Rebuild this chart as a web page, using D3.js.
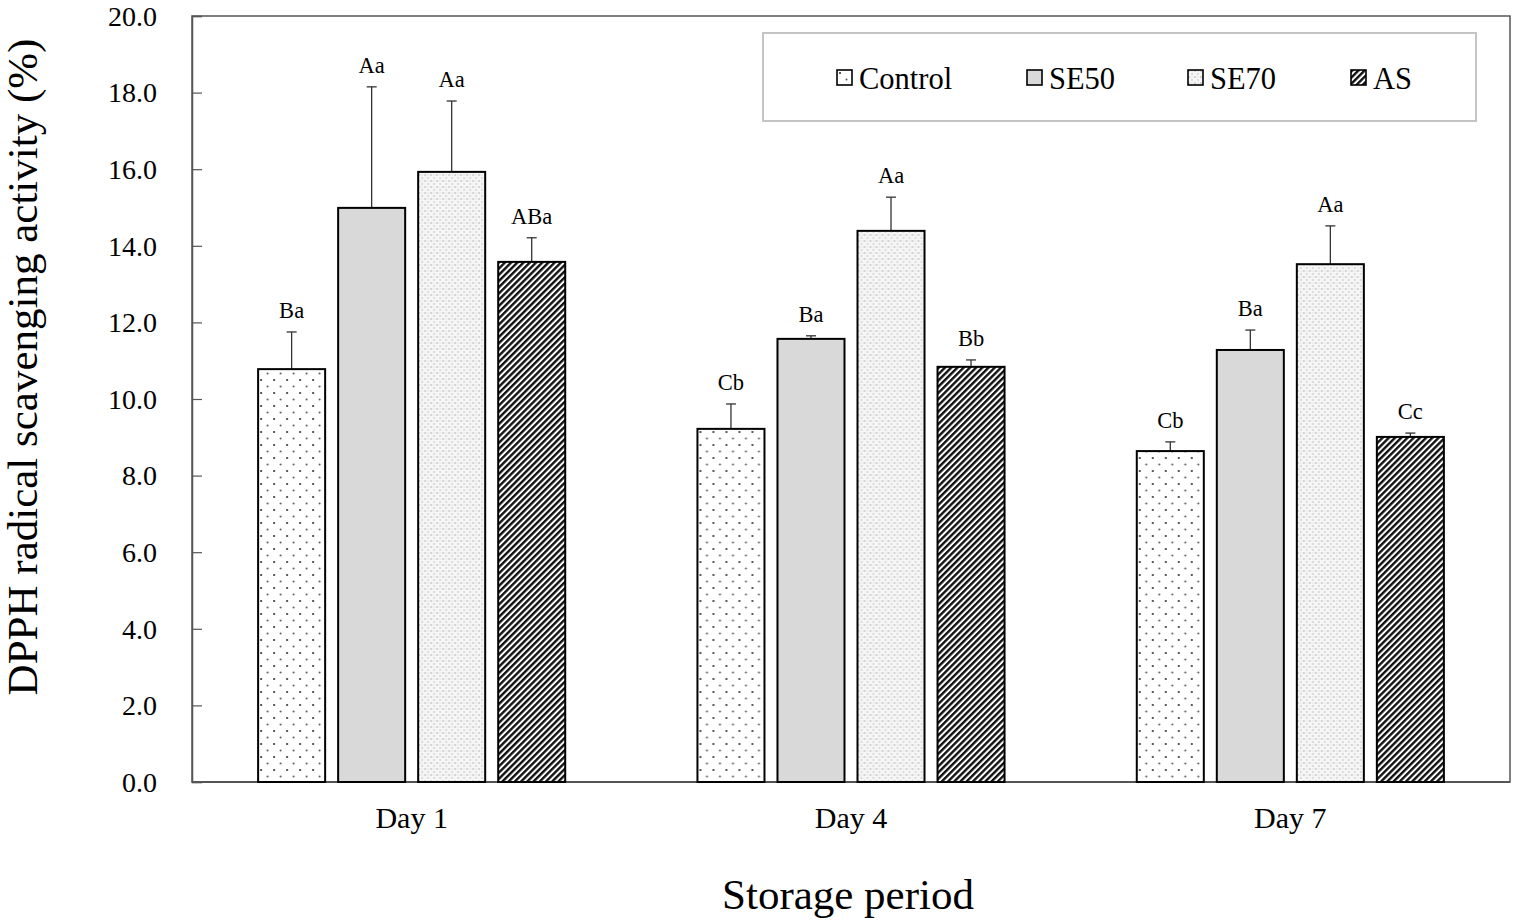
<!DOCTYPE html>
<html>
<head>
<meta charset="utf-8">
<script src="https://cdn.jsdelivr.net/npm/d3@7"></script>
<style>
  body { margin: 0; background: #fff; }
  text { font-family: "Liberation Serif", "Times New Roman", serif; fill: #000; }
</style>
</head>
<body>
<svg id="chart"></svg>
<script>
const days = ["Day 1", "Day 4", "Day 7"];
const series = ["Control", "SE50", "SE70", "AS"];
const means = {
    "Control": [10.78, 9.22, 8.64],
    "SE50":    [14.99, 11.57, 11.28],
    "SE70":    [15.93, 14.39, 13.52],
    "AS":      [13.58, 10.84, 9.01]
};
const errors = {
    "Control": [0.97, 0.65, 0.24],
    "SE50":    [3.16, 0.08, 0.52],
    "SE70":    [1.85, 0.88, 1.00],
    "AS":      [0.63, 0.18, 0.10]
};
const letters = {
    "Control": ["Ba", "Cb", "Cb"],
    "SE50":    ["Aa", "Ba", "Ba"],
    "SE70":    ["Aa", "Aa", "Aa"],
    "AS":      ["ABa", "Bb", "Cc"]
};
const yTicks = [0, 2, 4, 6, 8, 10, 12, 14, 16, 18, 20];

const width = 1513, height = 920,
      margin = {top: 16, right: 3, bottom: 138, left: 192};

const svg = d3.select("#chart")
    .attr("width", width)
    .attr("height", height);

// fill patterns
const defs = svg.append("defs");

const pCtrl = defs.append("pattern").attr("id", "p-control")
    .attr("patternUnits", "userSpaceOnUse").attr("width", 13).attr("height", 13);
pCtrl.append("rect").attr("width", 13).attr("height", 13).attr("fill", "#fff");
pCtrl.append("circle").attr("cx", 3).attr("cy", 3).attr("r", 1).attr("fill", "#222");
pCtrl.append("circle").attr("cx", 9.5).attr("cy", 9.5).attr("r", 1).attr("fill", "#555");

const pSe70 = defs.append("pattern").attr("id", "p-se70")
    .attr("patternUnits", "userSpaceOnUse").attr("width", 6).attr("height", 6);
pSe70.append("rect").attr("width", 6).attr("height", 6).attr("fill", "#f6f6f6");
pSe70.append("circle").attr("cx", 1).attr("cy", 1).attr("r", 0.8).attr("fill", "#aaa");
pSe70.append("circle").attr("cx", 4).attr("cy", 4).attr("r", 0.8).attr("fill", "#bbb");
pSe70.append("circle").attr("cx", 4).attr("cy", 1).attr("r", 0.5).attr("fill", "#ccc");

const pAs = defs.append("pattern").attr("id", "p-as")
    .attr("patternUnits", "userSpaceOnUse").attr("width", 4.4).attr("height", 4.4)
    .attr("patternTransform", "rotate(45)");
pAs.append("rect").attr("width", 4.4).attr("height", 4.4).attr("fill", "#fff");
pAs.append("rect").attr("width", 2.4).attr("height", 4.4).attr("fill", "#111");

const fills = {
    "Control": "url(#p-control)",
    "SE50": "#d9d9d9",
    "SE70": "url(#p-se70)",
    "AS": "url(#p-as)"
};

const x0 = d3.scaleBand()
    .domain(days)
    .range([margin.left, width - margin.right])
    .paddingInner(0.301)
    .paddingOuter(0.1505);

const x1 = d3.scaleBand()
    .domain(series)
    .range([0, x0.bandwidth()])
    .paddingInner(0.1625);

const y = d3.scaleLinear()
    .domain([0, 20])
    .range([height - margin.bottom, margin.top]);

// plot frame
svg.append("rect")
    .attr("x", margin.left).attr("y", margin.top)
    .attr("width", width - margin.right - margin.left)
    .attr("height", height - margin.bottom - margin.top)
    .attr("fill", "none").attr("stroke", "#555").attr("stroke-width", 1.5);

// y axis with inward ticks
const yAxis = svg.append("g")
    .attr("transform", `translate(${margin.left},0)`)
    .call(d3.axisRight(y).tickValues(yTicks).tickSize(10).tickFormat(""));
yAxis.select(".domain").attr("stroke", "#555").attr("stroke-width", 1.5);
yAxis.selectAll(".tick line").attr("stroke", "#555").attr("stroke-width", 1.2);

svg.append("g").selectAll("text")
    .data(yTicks)
    .join("text")
    .attr("x", 157).attr("y", d => y(d))
    .attr("dy", "0.35em")
    .attr("text-anchor", "end")
    .attr("font-size", 28)
    .text(d => d.toFixed(1));

// bottom axis line
svg.append("line")
    .attr("x1", margin.left).attr("x2", width - margin.right)
    .attr("y1", y(0)).attr("y2", y(0))
    .attr("stroke", "#555").attr("stroke-width", 2);

svg.append("g").selectAll("text")
    .data(days)
    .join("text")
    .attr("x", d => x0(d) + x0.bandwidth() / 2)
    .attr("y", 828)
    .attr("text-anchor", "middle")
    .attr("font-size", 30)
    .text(d => d);

// bars
const rows = [];
days.forEach((d, i) => series.forEach(s => rows.push({
    day: d, s: s, v: means[s][i], e: errors[s][i], lab: letters[s][i]
})));

const bars = svg.append("g").selectAll("g")
    .data(rows)
    .join("g")
    .attr("transform", d => `translate(${x0(d.day) + x1(d.s)},0)`);

bars.append("line")
    .attr("x1", x1.bandwidth() / 2).attr("x2", x1.bandwidth() / 2)
    .attr("y1", d => y(d.v)).attr("y2", d => y(d.v + d.e))
    .attr("stroke", "#333").attr("stroke-width", 1.3);

bars.append("line")
    .attr("x1", x1.bandwidth() / 2 - 5).attr("x2", x1.bandwidth() / 2 + 5)
    .attr("y1", d => y(d.v + d.e)).attr("y2", d => y(d.v + d.e))
    .attr("stroke", "#333").attr("stroke-width", 1.3);

bars.append("rect")
    .attr("x", 0)
    .attr("y", d => y(d.v))
    .attr("width", x1.bandwidth())
    .attr("height", d => y(0) - y(d.v))
    .attr("fill", d => fills[d.s])
    .attr("stroke", "#000")
    .attr("stroke-width", 2);

bars.append("text")
    .attr("x", x1.bandwidth() / 2)
    .attr("y", d => y(d.v + d.e) - 14)
    .attr("text-anchor", "middle")
    .attr("font-size", 22.5)
    .text(d => d.lab);

// legend
const legend = svg.append("g");
legend.append("rect")
    .attr("x", 763).attr("y", 33).attr("width", 713).attr("height", 88)
    .attr("fill", "#fff").attr("stroke", "#c4c4c4").attr("stroke-width", 2);

const legendX = {"Control": 837, "SE50": 1027, "SE70": 1188, "AS": 1351};
const items = legend.selectAll("g.item")
    .data(series)
    .join("g")
    .attr("class", "item")
    .attr("transform", d => `translate(${legendX[d]},70)`);

items.append("rect")
    .attr("width", 15).attr("height", 15)
    .attr("fill", d => fills[d])
    .attr("stroke", "#000").attr("stroke-width", 1.6);

items.append("text")
    .attr("x", 22).attr("y", 8)
    .attr("dy", "0.35em")
    .attr("font-size", 30.5)
    .text(d => d);

// axis titles
svg.append("text")
    .attr("transform", "translate(37,367) rotate(-90)")
    .attr("text-anchor", "middle")
    .attr("font-size", 43)
    .text("DPPH radical scavenging activity (%)");

svg.append("text")
    .attr("x", 848).attr("y", 909)
    .attr("text-anchor", "middle")
    .attr("font-size", 43)
    .text("Storage period");
</script>
</body>
</html>
